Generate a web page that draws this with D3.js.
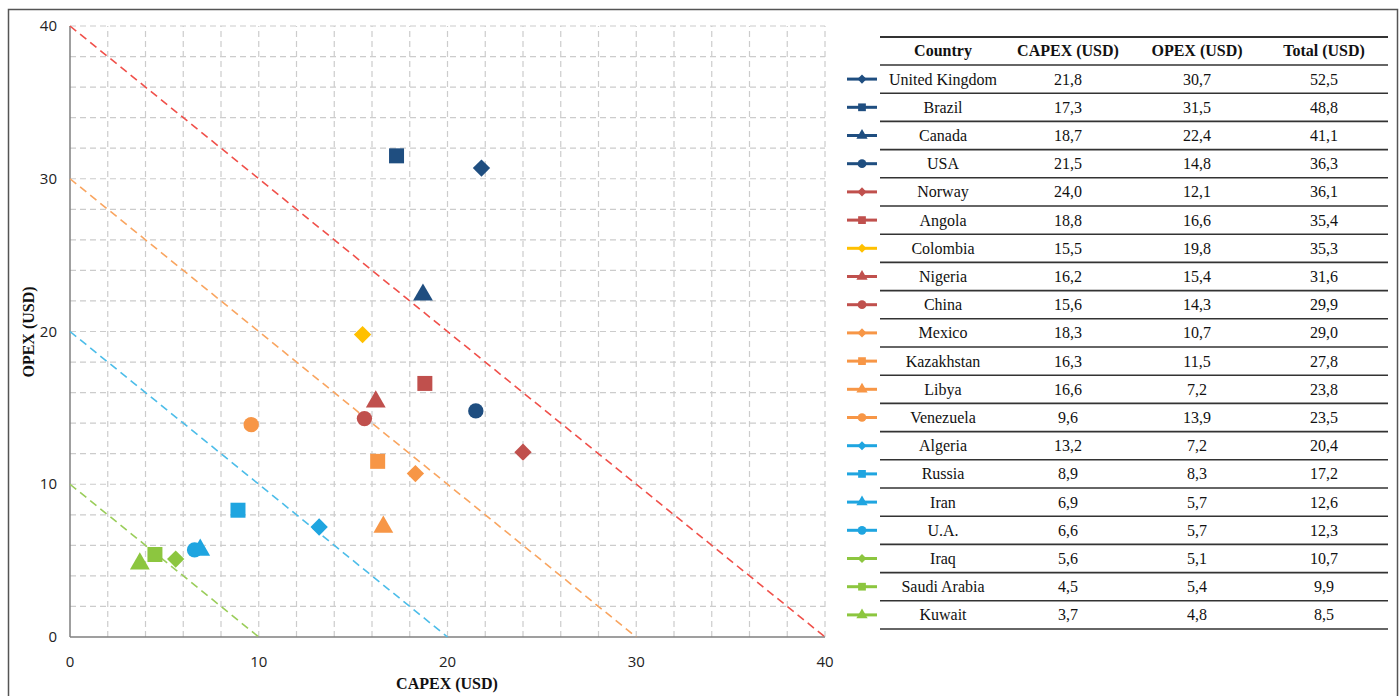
<!DOCTYPE html>
<html><head><meta charset="utf-8">
<script src="https://cdn.jsdelivr.net/npm/d3@7"></script>
<style>body{margin:0;background:#fff}svg{display:block}</style>
</head><body>
<svg id="c" width="1400" height="696"></svg>
<script>
const countries = ["United Kingdom","Brazil","Canada","USA","Norway","Angola","Colombia","Nigeria","China","Mexico","Kazakhstan","Libya","Venezuela","Algeria","Russia","Iran","U.A.","Iraq","Saudi Arabia","Kuwait"];
const capex = [21.8,17.3,18.7,21.5,24.0,18.8,15.5,16.2,15.6,18.3,16.3,16.6,9.6,13.2,8.9,6.9,6.6,5.6,4.5,3.7];
const opex  = [30.7,31.5,22.4,14.8,12.1,16.6,19.8,15.4,14.3,10.7,11.5,7.2,13.9,7.2,8.3,5.7,5.7,5.1,5.4,4.8];
const total = [52.5,48.8,41.1,36.3,36.1,35.4,35.3,31.6,29.9,29.0,27.8,23.8,23.5,20.4,17.2,12.6,12.3,10.7,9.9,8.5];
const groups = ["blue","blue","blue","blue","red","red","yellow","red","red","orange","orange","orange","orange","lblue","lblue","lblue","lblue","green","green","green"];
const shapes = ["diamond","square","triangle","circle","diamond","square","diamond","triangle","circle","diamond","square","triangle","circle","diamond","square","triangle","circle","diamond","square","triangle"];
const headers = ["Country","CAPEX (USD)","OPEX (USD)","Total (USD)"];
const isoTotals = [40,30,20,10];
const isoColors = ["#F0504A","#F9A560","#4CBDE9","#9ACD5A"];
const xTicks = [0,10,20,30,40];
const yTicks = [0,10,20,30,40];
const palette = {blue:"#1F4E80",red:"#C0504D",yellow:"#FFC000",orange:"#F79646",lblue:"#1FA5E0",green:"#8CC63F"};

const svg = d3.select("#c");
svg.append("rect").attr("x",8.5).attr("y",9.5).attr("width",1389).attr("height",700)
  .attr("fill","none").attr("stroke","#555").attr("stroke-width",1.5);

const x = d3.scaleLinear().domain([0,40]).range([70,825]);
const y = d3.scaleLinear().domain([0,40]).range([637,26]);

const g = svg.append("g");
const minor = d3.range(0,41,2);
g.selectAll(".gx").data(minor.filter(d=>d>0)).join("line")
  .attr("x1",d=>x(d)).attr("x2",d=>x(d)).attr("y1",y(0)).attr("y2",y(40))
  .attr("stroke","#cccccc").attr("stroke-width",1.2).attr("stroke-dasharray","6,4");
g.selectAll(".gy").data(minor.filter(d=>d>0)).join("line")
  .attr("y1",d=>y(d)).attr("y2",d=>y(d)).attr("x1",x(0)).attr("x2",x(40))
  .attr("stroke","#cccccc").attr("stroke-width",1.2).attr("stroke-dasharray","6,4");
g.append("line").attr("x1",x(0)).attr("x2",x(0)).attr("y1",y(0)).attr("y2",y(40)).attr("stroke","#7f7f7f").attr("stroke-width",1.5);
g.append("line").attr("x1",x(0)).attr("x2",x(40)).attr("y1",y(0)).attr("y2",y(0)).attr("stroke","#7f7f7f").attr("stroke-width",1.5);
g.selectAll(".xt").data(xTicks).join("text").attr("x",d=>x(d)).attr("y",667)
  .attr("text-anchor","middle").attr("font-family","Open Sans, sans-serif").attr("font-size",15).attr("fill","#222").text(d=>d);
g.selectAll(".yt").data(yTicks).join("text").attr("x",57).attr("y",d=>y(d)+5)
  .attr("text-anchor","end").attr("font-family","Open Sans, sans-serif").attr("font-size",15).attr("fill","#222").text(d=>d);
g.append("text").attr("x",447).attr("y",689).attr("text-anchor","middle")
  .attr("font-family","Liberation Serif, serif").attr("font-weight","bold").attr("font-size",16).attr("fill","#111").text("CAPEX (USD)");
g.append("text").attr("transform","translate(34,332) rotate(-90)").attr("text-anchor","middle")
  .attr("font-family","Liberation Serif, serif").attr("font-weight","bold").attr("font-size",16).attr("fill","#111").text("OPEX (USD)");
g.selectAll(".iso").data(isoTotals).join("line")
  .attr("x1",x(0)).attr("y1",d=>y(d)).attr("x2",d=>x(d)).attr("y2",y(0))
  .attr("stroke",(d,i)=>isoColors[i]).attr("stroke-width",1.6).attr("stroke-dasharray","8,5");

const symMap = {square:d3.symbolSquare, triangle:d3.symbolTriangle, circle:d3.symbolCircle};
function shapePath(s, size){
  if(s==="diamond") return d3.symbol(d3.symbolSquare, size*0.75)();
  return d3.symbol(symMap[s], size)();
}
const bigSizes = {diamond:200,square:225,triangle:170,circle:185};
const idx = d3.range(countries.length);
g.selectAll(".pt").data(idx.slice().reverse()).join("path")
  .attr("d",i=>shapePath(shapes[i], bigSizes[shapes[i]]))
  .attr("transform",i=>`translate(${x(capex[i])},${y(opex[i])})`+(shapes[i]==="diamond"?" rotate(45)":""))
  .attr("fill",i=>palette[groups[i]]);

const tx = [943,1068,1197,1324];
const tLeft=880, tRight=1388, tTop=37, rowH=28.2, headH=28;
const t = svg.append("g");
const ry = d3.scaleLinear().domain([0,1]).range([tTop+headH, tTop+headH+rowH]);
t.append("line").attr("x1",tLeft).attr("x2",tRight).attr("y1",tTop).attr("y2",tTop).attr("stroke","#333").attr("stroke-width",2);
t.selectAll(".rl").data(d3.range(0,countries.length+1)).join("line")
  .attr("x1",tLeft).attr("x2",tRight).attr("y1",d=>ry(d)).attr("y2",d=>ry(d)).attr("stroke","#333").attr("stroke-width",1.6);
t.selectAll(".hd").data(headers).join("text").attr("x",(d,i)=>tx[i]).attr("y",tTop+19)
  .attr("text-anchor","middle").attr("font-family","Liberation Serif, serif").attr("font-weight","bold").attr("font-size",16).attr("fill","#111").text(d=>d);
const fmt = v=>v.toFixed(1).replace(".",",");
const rows = t.selectAll(".row").data(idx).join("g").attr("transform",i=>`translate(0,${ry(i)+rowH/2})`);
const cols = [i=>countries[i], i=>fmt(capex[i]), i=>fmt(opex[i]), i=>fmt(total[i])];
cols.forEach((f,k)=>{
  rows.append("text").attr("x",tx[k]).attr("y",5.5).attr("text-anchor","middle").attr("font-family","Liberation Serif, serif").attr("font-size",16).attr("fill","#111").text(f);
});
rows.append("line").attr("x1",847).attr("x2",877).attr("y1",0).attr("y2",0).attr("stroke",i=>palette[groups[i]]).attr("stroke-width",3);
const smallSizes = {diamond:55,square:60,triangle:55,circle:60};
rows.append("path").attr("d",i=>shapePath(shapes[i], smallSizes[shapes[i]]))
  .attr("transform",i=>"translate(862,0)"+(shapes[i]==="diamond"?" rotate(45)":""))
  .attr("fill",i=>palette[groups[i]]);
</script>
</body></html>
